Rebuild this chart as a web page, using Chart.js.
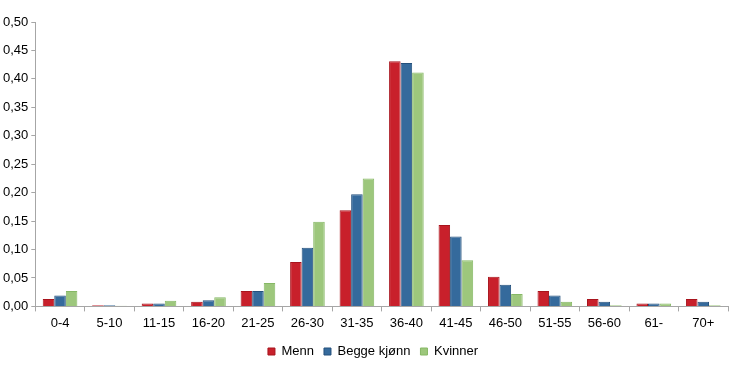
<!DOCTYPE html>
<html>
<head>
<meta charset="utf-8">
<script src="https://cdn.jsdelivr.net/npm/chart.js@4/dist/chart.umd.min.js"></script>
<style>
html,body{margin:0;padding:0;background:#fff;}
#wrap{width:730px;height:374px;position:relative;}
</style>
</head>
<body>
<div id="wrap"><canvas id="c" width="730" height="374"></canvas></div>
<script>
const categories = ["0-4","5-10","11-15","16-20","21-25","26-30","31-35","36-40","41-45","46-50","51-55","56-60","61-","70+"];
const menn   = [0.013,0.002,0.005,0.008,0.027,0.078,0.169,0.431,0.143,0.052,0.027,0.013,0.005,0.013];
const begge  = [0.019,0.002,0.005,0.011,0.027,0.103,0.197,0.428,0.123,0.038,0.019,0.008,0.005,0.008];
const kvinner= [0.027,0.001,0.010,0.016,0.041,0.149,0.225,0.411,0.081,0.022,0.008,0.002,0.005,0.002];
const seriesNames = ["Menn","Begge kjønn","Kvinner"];
const yTicks = [0,0.05,0.10,0.15,0.20,0.25,0.30,0.35,0.40,0.45,0.50];

Chart.defaults.font.family = "'Liberation Sans', Arial, sans-serif";
Chart.defaults.color = "#000";

const legendShift = {
  id: 'legendShift',
  afterLayout(chart) {
    if (chart.legend) { chart.legend.left += 9; chart.legend.right += 9; }
  }
};

new Chart(document.getElementById('c'), {
  type: 'bar',
  data: {
    labels: categories,
    datasets: [
      {label: seriesNames[0], data: menn, backgroundColor: '#c8202b', borderColor: '#a8141d', borderWidth: 1},
      {label: seriesNames[1], data: begge, backgroundColor: '#356a9c', borderColor: '#24507c', borderWidth: 1},
      {label: seriesNames[2], data: kvinner, backgroundColor: '#9dc77c', borderColor: '#86b865', borderWidth: 1}
    ]
  },
  plugins: [legendShift],
  options: {
    responsive: false,
    animation: false,
    devicePixelRatio: 1,
    layout: {padding: {top: 22, right: 2, left: 0, bottom: 6}},
    datasets: {bar: {categoryPercentage: 0.7, barPercentage: 1.0}},
    plugins: {
      legend: {
        position: 'bottom',
        labels: {boxWidth: 7, boxHeight: 7, font: {size: 13}, padding: 10, color: '#000'}
      },
      tooltip: {enabled: false}
    },
    scales: {
      x: {
        grid: {drawOnChartArea: false, drawTicks: true, tickLength: 5, color: '#a6a6a6', offset: true},
        border: {color: '#a6a6a6', width: 1},
        ticks: {font: {size: 13}, color: '#000', padding: 4, maxRotation: 0, autoSkip: false}
      },
      y: {
        min: 0, max: 0.5,
        afterBuildTicks: (s) => { s.ticks = yTicks.map(v => ({value: v})); },
        grid: {drawOnChartArea: false, drawTicks: true, tickLength: 4, color: '#a6a6a6'},
        border: {color: '#a6a6a6', width: 1},
        ticks: {font: {size: 13}, color: '#000', padding: 3,
          callback: (v) => Number(v).toFixed(2).replace('.', ',')}
      }
    }
  }
});
</script>
</body>
</html>
